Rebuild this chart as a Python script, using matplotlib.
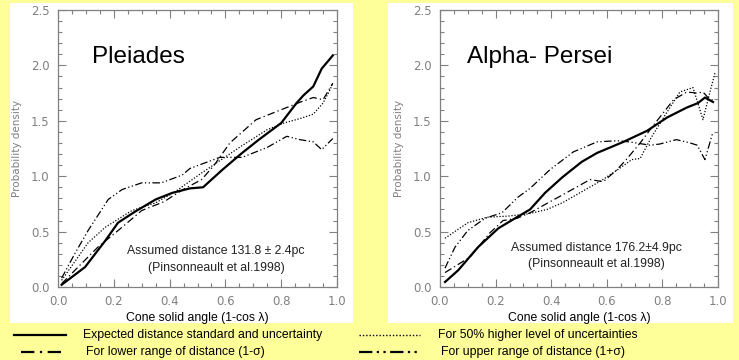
"""Cone solid angle probability density, Pleiades and Alpha Persei."""

import matplotlib

matplotlib.use("Agg")
import matplotlib.pyplot as plt
from matplotlib.lines import Line2D
from matplotlib.patches import Rectangle
from matplotlib.ticker import MultipleLocator

# Pleiades
ple_exp_x = [0.013, 0.097, 0.17, 0.215, 0.276, 0.35, 0.41, 0.473, 0.52, 0.59, 0.66,
             0.72, 0.80, 0.855, 0.88, 0.915, 0.945, 0.985]
ple_exp_y = [0.02, 0.18, 0.42, 0.58, 0.68, 0.79, 0.85, 0.89, 0.90, 1.06, 1.21,
             1.33, 1.48, 1.66, 1.73, 1.81, 1.97, 2.09]
ple_lo_x = [0.013, 0.143, 0.23, 0.30, 0.38, 0.445, 0.515, 0.56, 0.616, 0.71, 0.81,
            0.87, 0.915, 0.95, 0.985]
ple_lo_y = [0.03, 0.36, 0.54, 0.69, 0.77, 0.875, 0.97, 1.10, 1.30, 1.51, 1.61,
            1.67, 1.71, 1.69, 1.84]
ple_hi_x = [0.013, 0.06, 0.108, 0.18, 0.23, 0.30, 0.37, 0.445, 0.473, 0.58, 0.66,
            0.75, 0.82, 0.867, 0.915, 0.945, 0.985]
ple_hi_y = [0.08, 0.30, 0.51, 0.79, 0.88, 0.94, 0.94, 1.01, 1.07, 1.17, 1.17,
            1.26, 1.36, 1.33, 1.31, 1.24, 1.34]
ple_unc_x = [0.013, 0.108, 0.17, 0.265, 0.35, 0.42, 0.515, 0.545, 0.65, 0.75, 0.81,
             0.867, 0.915, 0.95, 0.975, 0.985]
ple_unc_y = [0.06, 0.40, 0.54, 0.69, 0.76, 0.86, 1.03, 1.08, 1.26, 1.42, 1.48,
             1.52, 1.56, 1.66, 1.78, 1.84]

# Alpha Persei
per_exp_x = [0.018, 0.065, 0.137, 0.21, 0.27, 0.324, 0.378, 0.44, 0.51, 0.565, 0.66,
             0.745, 0.817, 0.888, 0.928, 0.953, 0.982]
per_exp_y = [0.045, 0.15, 0.36, 0.53, 0.62, 0.70, 0.85, 0.99, 1.13, 1.21, 1.31,
             1.41, 1.53, 1.62, 1.66, 1.71, 1.67]
per_lo_x = [0.018, 0.108, 0.18, 0.227, 0.277, 0.324, 0.396, 0.44, 0.54, 0.587, 0.637,
            0.67, 0.72, 0.765, 0.84, 0.888, 0.925, 0.946, 0.964, 0.985]
per_lo_y = [0.13, 0.27, 0.49, 0.60, 0.62, 0.67, 0.77, 0.83, 0.97, 0.95, 1.06,
            1.15, 1.30, 1.45, 1.69, 1.76, 1.75, 1.76, 1.71, 1.68]
per_hi_x = [0.018, 0.054, 0.10, 0.162, 0.223, 0.28, 0.324, 0.396, 0.48, 0.565, 0.637,
            0.68, 0.755, 0.79, 0.85, 0.90, 0.925, 0.953, 0.982]
per_hi_y = [0.17, 0.36, 0.51, 0.62, 0.67, 0.81, 0.89, 1.06, 1.22, 1.31, 1.32,
            1.31, 1.28, 1.29, 1.33, 1.30, 1.28, 1.15, 1.40]
per_unc_x = [0.018, 0.10, 0.17, 0.245, 0.317, 0.385, 0.44, 0.51, 0.58, 0.64, 0.69,
             0.72, 0.76, 0.817, 0.863, 0.91, 0.946, 0.97, 0.99]
per_unc_y = [0.44, 0.58, 0.63, 0.64, 0.66, 0.70, 0.76, 0.86, 0.96, 1.06, 1.15,
             1.16, 1.35, 1.58, 1.76, 1.80, 1.51, 1.75, 1.94]

panels = [
    ("Pleiades", "Assumed distance 131.8 ± 2.4pc",
     (ple_exp_x, ple_exp_y), (ple_lo_x, ple_lo_y), (ple_hi_x, ple_hi_y), (ple_unc_x, ple_unc_y)),
    ("Alpha- Persei", "Assumed distance 176.2±4.9pc",
     (per_exp_x, per_exp_y), (per_lo_x, per_lo_y), (per_hi_x, per_hi_y), (per_unc_x, per_unc_y)),
]
legend_labels = [
    "Expected distance standard and uncertainty",
    "For lower range of distance (1-σ)",
    "For 50% higher level of uncertainties",
    "For upper range of distance (1+σ)",
]

BG = "#ffff99"
GRAY = "#808080"
LS_LO = (0, (6, 2.5, 1, 2.5))
LS_HI = (0, (6, 2, 1, 2, 1, 2))
LS_UNC = (0, (1, 1.4))
SANS = ["Liberation Sans", "DejaVu Sans"]

fig = plt.figure(figsize=(7.39, 3.6), dpi=100, facecolor=BG)
W, H = 739, 360

# white panel backgrounds
for x0, x1 in [(10, 353), (388, 733)]:
    fig.patches.append(Rectangle((x0 / W, 1 - 323 / H), (x1 - x0) / W, 320 / H,
                                 transform=fig.transFigure, facecolor="white",
                                 edgecolor="none", zorder=-5))

axes_px = [(58, 337), (440, 718)]
ann_pos = [((0.122, 2.02), (0.566, 0.325), (0.566, 0.17)),
           ((0.097, 2.02), (0.561, 0.352), (0.561, 0.208))]

for (name, dist, exp, lo, hi, unc), (ax0, ax1), pos in zip(panels, axes_px, ann_pos):
    ax = fig.add_axes([ax0 / W, 1 - 287 / H, (ax1 - ax0) / W, 277 / H])
    ax.set_facecolor("white")
    ax.plot(*exp, color="black", lw=1.6)
    ax.plot(*lo, color="black", lw=0.9, linestyle=LS_LO)
    ax.plot(*hi, color="black", lw=0.9, linestyle=LS_HI)
    ax.plot(*unc, color="black", lw=0.9, linestyle=LS_UNC)
    ax.set_xlim(0, 1)
    ax.set_ylim(0, 2.5)
    ax.xaxis.set_major_locator(MultipleLocator(0.2))
    ax.xaxis.set_minor_locator(MultipleLocator(0.05))
    ax.yaxis.set_major_locator(MultipleLocator(0.5))
    ax.yaxis.set_minor_locator(MultipleLocator(0.1))
    ax.xaxis.set_major_formatter(lambda v, p: f"{v:.1f}")
    ax.yaxis.set_major_formatter(lambda v, p: f"{v:.1f}")
    ax.tick_params(which="both", direction="in", top=True, right=True,
                   color=GRAY, labelcolor=GRAY, labelsize=8.5, width=0.8)
    ax.tick_params(which="major", length=6, pad=6)
    ax.tick_params(which="minor", length=3)
    for sp in ax.spines.values():
        sp.set_color(GRAY)
        sp.set_linewidth(0.9)
    ax.set_xlabel("Cone solid angle (1-cos λ)", fontsize=8.8, family=SANS, labelpad=3)
    ax.set_ylabel("Probability density", fontsize=7.5, color=GRAY)
    ax.yaxis.set_label_coords(-0.13, 0.5)
    ax.text(*pos[0], name, fontsize=17.5, family=SANS, ha="left", va="baseline")
    ax.text(*pos[1], dist, fontsize=8.8, family=SANS, ha="center", va="center", color="#222222")
    ax.text(*pos[2], "(Pinsonneault et al.1998)", fontsize=8.8, family=SANS,
            ha="center", va="center", color="#222222")

# legend beneath the panels
legend_rows = [
    ((14, 66), 335, "-", 1.6, legend_labels[0], 83),
    ((21, 66), 352, LS_LO, 1.6, legend_labels[1], 86),
    ((359, 420), 335, LS_UNC, 1.0, legend_labels[2], 438),
    ((359, 421), 352, LS_HI, 1.6, legend_labels[3], 441),
]
for (lx0, lx1), ly, ls, lw, label, tx in legend_rows:
    fig.add_artist(Line2D([lx0 / W, lx1 / W], [1 - ly / H, 1 - ly / H],
                          transform=fig.transFigure, color="black", lw=lw, linestyle=ls))
    fig.text(tx / W, 1 - ly / H, label, fontsize=8.8, family=SANS, ha="left", va="center")

fig.savefig("out.png", dpi=100, facecolor=BG)
